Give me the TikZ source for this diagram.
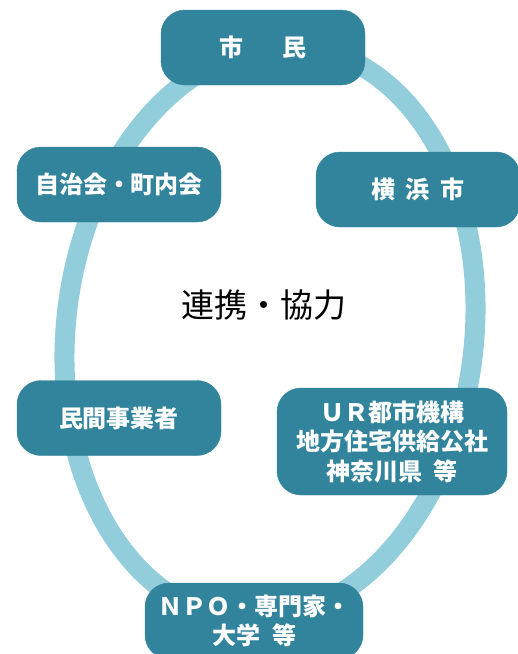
\documentclass[tikz,border=0pt]{standalone}
\usepackage{fontspec}
\newfontfamily\jpfont{Noto Sans CJK JP}
\definecolor{boxteal}{HTML}{31849B}
\definecolor{ringblue}{HTML}{92CDDC}

\begin{document}
\begin{tikzpicture}[x=1pt,y=-1pt,
  partner/.style={fill=boxteal,draw=boxteal,rounded corners=24pt,
    text=white,font=\jpfont\bfseries\fontsize{24}{29.5}\selectfont,
    align=center,inner sep=0pt,minimum width=204pt,minimum height=75pt}]
  \useasboundingbox (0,0) rectangle (518,654);
  % ring behind the boxes
  \draw[ringblue,line width=20pt,rotate around={-7:(270,333)}]
    (270,333) ellipse [x radius=204pt,y radius=288pt];
  \node[partner] (shimin) at (263,47.5) {市\hspace{1.6em}民};
  \node[partner] (jichikai) at (119,184.5) {自治会・町内会};
  \node[partner] (yokohama) at (418,189.5) {横\hspace{0.45em}浜\hspace{0.45em}市};
  \node[partner] (minkan) at (119,418) {民間事業者};
  \node[partner,minimum width=230pt,minimum height=107pt] (ur)
    at (392,441.5) {ＵＲ都市機構\\地方住宅供給公社\\神奈川県\hspace{0.5em}等};
  \node[partner,minimum width=218pt,minimum height=76pt] (npo)
    at (254,621) {ＮＰＯ・専門家・\\大学\hspace{0.5em}等};
  % centre label
  \node[font=\jpfont\fontsize{33}{38}\selectfont] (renkei) at (264,305) {連携・協力};
\end{tikzpicture}
\end{document}
